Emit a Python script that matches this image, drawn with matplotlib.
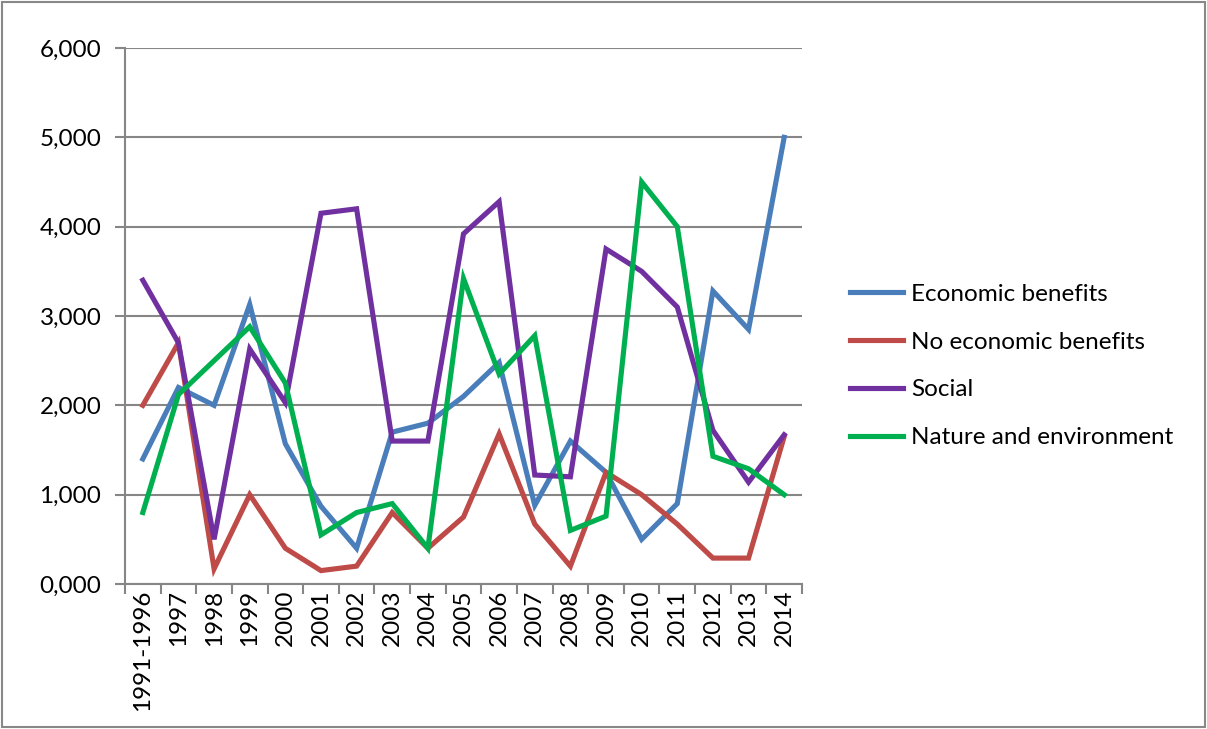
import matplotlib.pyplot as plt
from matplotlib.patches import Rectangle
from matplotlib.ticker import FuncFormatter
import numpy as np

plt.rcParams['font.family'] = ['Lato', 'DejaVu Sans']

years = ['1991-1996', '1997', '1998', '1999', '2000', '2001', '2002', '2003', '2004',
         '2005', '2006', '2007', '2008', '2009', '2010', '2011', '2012', '2013', '2014']

economic = [1400, 2200, 2000, 3130, 1570, 870, 400, 1700, 1800, 2100,
            2480, 880, 1600, 1250, 500, 900, 3280, 2850, 5000]
no_economic = [2000, 2700, 170, 1000, 400, 150, 200, 800, 400, 750,
               1680, 670, 200, 1250, 1000, 670, 290, 290, 1650]
social = [3400, 2700, 500, 2630, 2030, 4150, 4200, 1600, 1600, 3920,
          4280, 1220, 1200, 3750, 3500, 3100, 1720, 1140, 1670]
nature = [800, 2120, 2500, 2880, 2250, 550, 800, 900, 400, 3420,
          2350, 2780, 600, 760, 4500, 4000, 1430, 1290, 1000]

series = [
    ('Economic benefits', economic, '#4A7EBB'),
    ('No economic benefits', no_economic, '#BE4B48'),
    ('Social', social, '#7030A0'),
    ('Nature and environment', nature, '#00B050'),
]

fig = plt.figure(figsize=(12.07, 7.29), dpi=100)
ax = fig.add_axes([125 / 1207, 1 - 584 / 729, (802 - 125) / 1207, (584 - 48) / 729])

x = np.arange(len(years))
for name, vals, col in series:
    ax.plot(x, vals, color=col, lw=3.7, label=name, solid_joinstyle='miter')

grid_col = '#868686'
ax.set_xlim(-0.5, len(years) - 0.5)
ax.set_ylim(0, 6000)
ax.set_yticks(np.arange(0, 6001, 1000))
ax.yaxis.set_major_formatter(FuncFormatter(lambda v, p: f'{int(v) // 1000},000'))
ax.grid(axis='y', color=grid_col, lw=1.5)
ax.set_axisbelow(True)

ax.set_xticks(x)
ax.set_xticklabels(years, rotation=90)
ax.set_xticks(np.arange(-0.5, len(years), 1), minor=True)
ax.tick_params(axis='x', which='major', length=0, labelsize=17.5, pad=4)
ax.tick_params(axis='x', which='minor', length=7, width=1.5, color=grid_col)
ax.tick_params(axis='y', length=7, width=1.5, color=grid_col, labelsize=17.5, pad=10)

for s in ['top', 'right']:
    ax.spines[s].set_visible(False)
for s in ['left', 'bottom']:
    ax.spines[s].set_color(grid_col)
    ax.spines[s].set_linewidth(1.5)

leg = fig.legend(loc='center left', bbox_to_anchor=(850 / 1207, 1 - 366 / 729),
                 frameon=False, fontsize=17.5, handlelength=2.2, handletextpad=0.3,
                 labelspacing=1.1, borderaxespad=0, borderpad=0)

fig.patches.append(Rectangle((0.002, 0.003), 0.996, 0.994, transform=fig.transFigure,
                             fill=False, edgecolor='#888888', lw=1.5))

fig.savefig('out.png', dpi=100)
